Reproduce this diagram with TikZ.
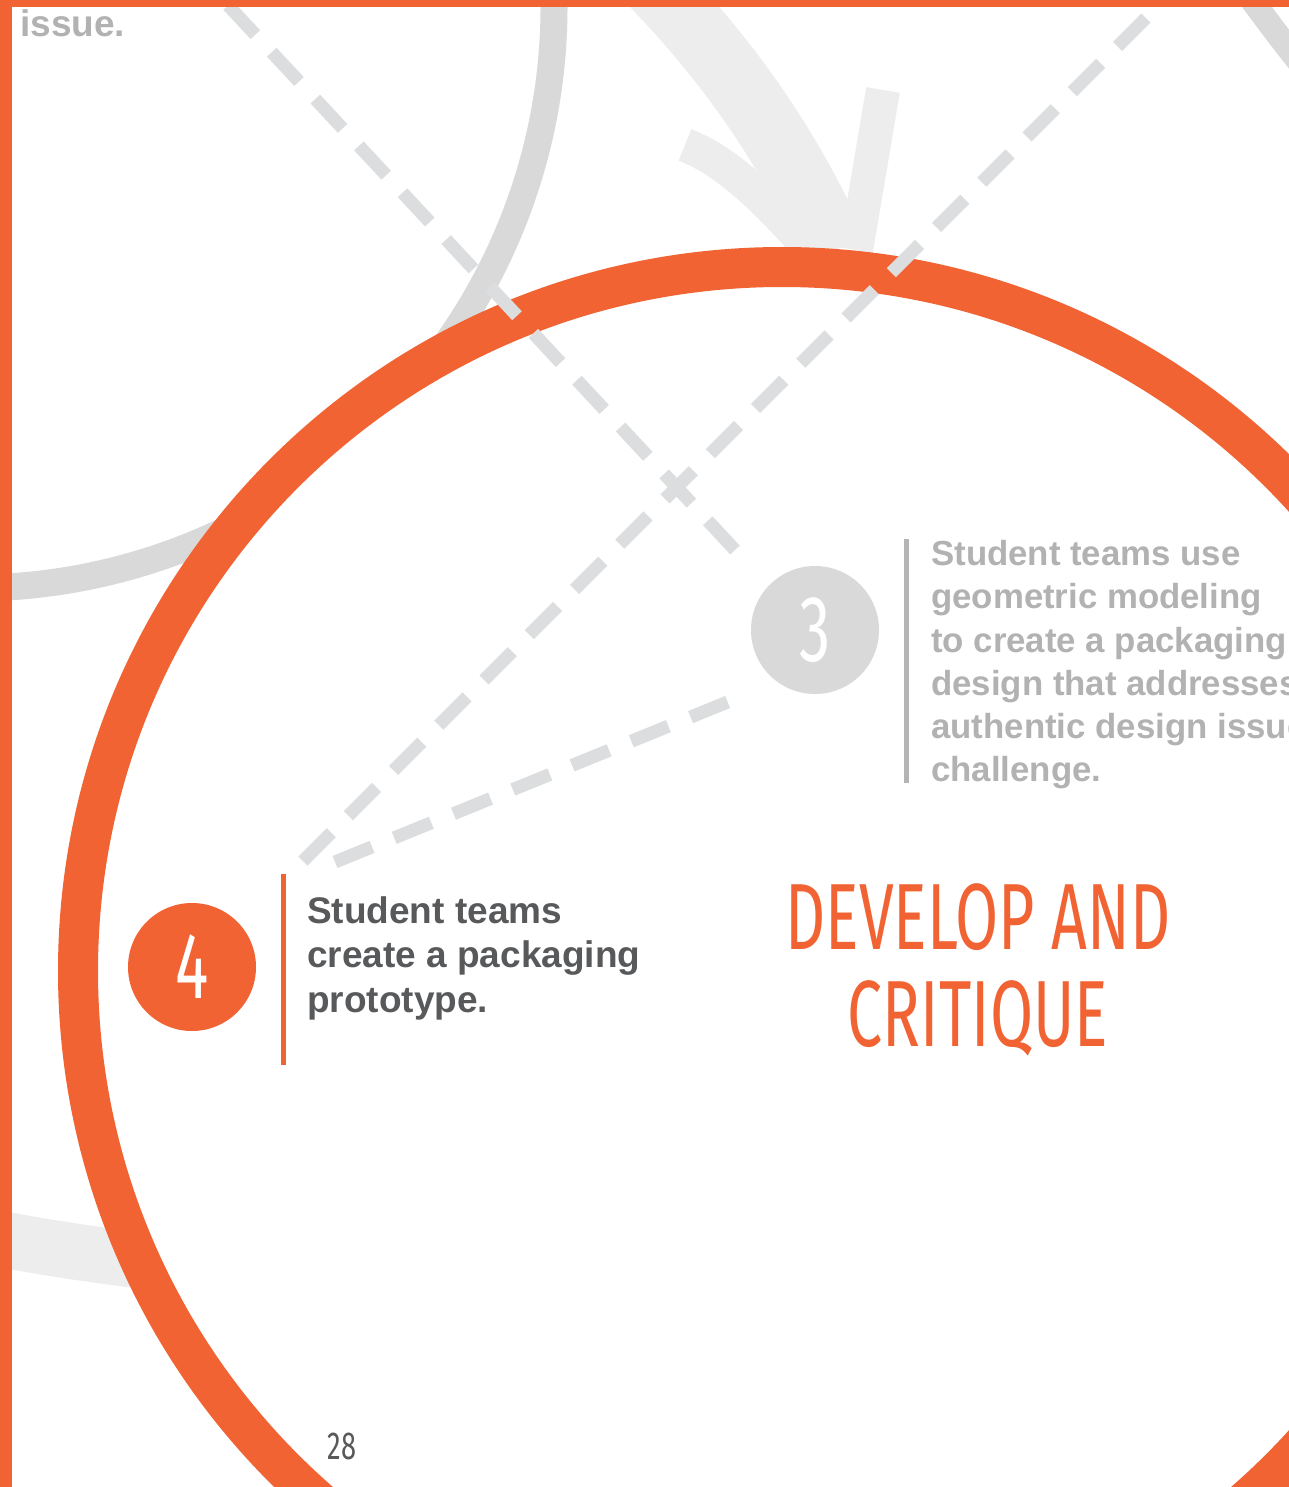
\documentclass[tikz,border=0pt]{standalone}
\usepackage{fontspec}
\setmainfont{Liberation Sans}
\newfontfamily\thinFont[FakeStretch=0.665]{Fira Sans}
\newfontfamily\condFont[FakeStretch=0.7]{Fira Sans}
\usepackage{tikz}
\definecolor{pageOrange}{RGB}{242,99,52}
\definecolor{circGray}{RGB}{217,217,217}
\definecolor{arrowGray}{RGB}{237,237,237}
\definecolor{dashGray}{RGB}{220,221,222}
\definecolor{textGray}{RGB}{178,178,178}
\definecolor{barGray}{RGB}{180,180,180}
\definecolor{textDark}{RGB}{88,89,91}
\tikzset{
  orangeRing/.style={draw=pageOrange,line width=40pt,fill=white},
  greyLoop/.style={draw=circGray,line width=27pt},
  arrowPart/.style={draw=arrowGray,line width=#1},
  dashLine/.style={draw=dashGray,line width=13pt,dash pattern=on 40pt off 24pt},
  stepDot/.style={circle,minimum size=128pt,inner sep=0pt,fill=#1,text=white,
    font=\thinFont\fontsize{94}{94}\selectfont},
  stepText/.style={anchor=north west,inner sep=0pt,align=left}
}

\begin{document}
\begin{tikzpicture}[x=1pt,y=-1pt]
  \useasboundingbox (0,0) rectangle (1289,1487);
  \clip (0,0) rectangle (1289,1487);
  \fill[white] (0,0) rectangle (1289,1487);
%% background loops and arrow
  \draw[greyLoop] (-27,7) ++(-8:581) arc (-8:100:581);
  \draw[greyLoop,line width=24pt] (1243,-12) .. controls (1265,18) and (1285,45) .. (1312,78);
  \draw[arrowPart=66pt] (638,-32) .. controls (730,60) and (790,150) .. (835,250);
  \draw[arrowPart=34pt] (883,90) -- (856,250);
  \draw[arrowPart=34pt] (685,145) .. controls (727,161) and (767,200) .. (815,255);
  \draw[arrowPart=56pt] (-20,1235) .. controls (40,1247) and (100,1256) .. (170,1264);
%% big ring
  \coordinate (ringCentre) at (782,971);
  \draw[orangeRing] (ringCentre) circle (704);
%% nodes
  % Node: stepThree
  \node[stepDot=circGray] (stepThree) at (815,630) {3};
  % Node: stepFour
  \node[stepDot=pageOrange] (stepFour) at (192,967) {4};
  % Node: geomText
  \node[stepText,text=textGray,font=\bfseries\fontsize{34.8}{43.3}\selectfont] (geomText) at (931,540)
    {Student teams use\\geometric modeling\\to create a packaging\\design that addresses\\authentic design issue\\challenge.};
  % Node: protoText
  \node[stepText,text=textDark,font=\bfseries\fontsize{37}{44.5}\selectfont] (protoText) at (307,896)
    {Student teams\\create a packaging\\prototype.};
  % Node: phaseTitle
  \node[anchor=north,inner sep=0pt,align=center,text=pageOrange,font=\thinFont\fontsize{94}{97}\selectfont] (phaseTitle) at (978,883)
    {DEVELOP AND\\CRITIQUE};
  % Node: prevText
  \node[anchor=base west,inner sep=0pt,text=textGray,font=\bfseries\fontsize{37}{37}\selectfont] (prevText) at (20,37) {issue.};
  % Node: pageNum
  \node[anchor=base,inner sep=0pt,text=textDark,font=\condFont\fontsize{39}{39}\selectfont] (pageNum) at (342,1459) {28};
%% dashed paths
  \coordinate (aTop) at (198,-27);
  \coordinate (aFoot) at (735,550);
  \coordinate (bTop) at (1180,-16);
  \coordinate (bFoot) at (303,861);
  \coordinate (cHead) at (735,699);
  \coordinate (cFoot) at (335,862);
  % Edge: aTop -> stepThree
  \draw[dashLine] (aFoot) -- (aTop);
  % Edge: bTop -> stepFour
  \draw[dashLine] (bFoot) -- (bTop);
  % Edge: stepThree -> stepFour
  \draw[dashLine] (cFoot) -- (cHead);
%% side bars
  \draw[barGray,line width=5pt] (906,539) -- (906,783);
  \draw[pageOrange,line width=5pt] (283,874) -- (283,1065);
%% page frame
  \fill[pageOrange] (0,0) rectangle (12,1487);
  \fill[pageOrange] (0,0) rectangle (1289,7);
\end{tikzpicture}
\end{document}
